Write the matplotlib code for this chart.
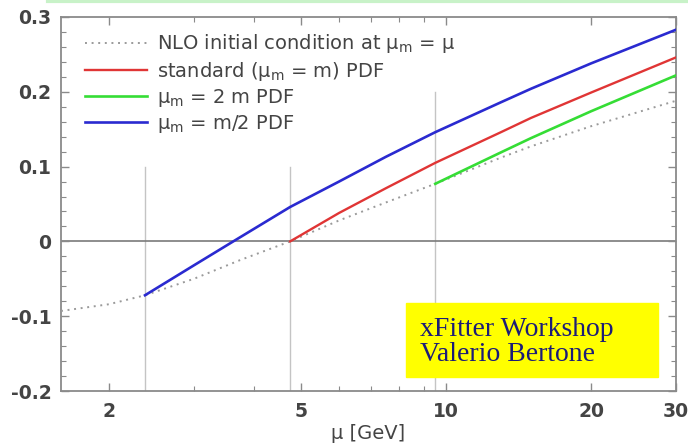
import numpy as np
import matplotlib
matplotlib.use('Agg')
import matplotlib.pyplot as plt
from matplotlib.lines import Line2D
from matplotlib.ticker import FixedLocator, NullFormatter, MultipleLocator

# values
nlo_x = [1.59, 2.0, 2.375, 3.0, 3.74, 4.75, 6.0, 7.5, 9.5, 13.0, 15.0, 20.0, 30.0]
nlo_y = [-0.093, -0.084, -0.072, -0.050, -0.025, 0.0, 0.028, 0.052, 0.077, 0.112, 0.127, 0.154, 0.188]

std_x = [4.75, 6.0, 7.5, 9.5, 13.0, 15.0, 20.0, 30.0]
std_y = [0.0, 0.038, 0.071, 0.105, 0.146, 0.165, 0.199, 0.246]

twom_x = [9.5, 13.0, 15.0, 20.0, 30.0]
twom_y = [0.077, 0.119, 0.138, 0.174, 0.222]

half_x = [2.375, 3.0, 3.62, 4.75, 6.0, 7.5, 9.5, 13.0, 15.0, 20.0, 30.0]
half_y = [-0.072, -0.032, 0.0, 0.046, 0.080, 0.113, 0.146, 0.186, 0.204, 0.238, 0.283]

thresholds = [2.375, 4.75, 9.5]
threshold_top = [0.1, 0.1, 0.2]

xticks = [2, 5, 10, 20, 30]
xminor = [3, 4, 6, 7, 8, 9]

labels = [r'NLO initial condition at μ$_{\rm m}$ = μ',
          r'standard (μ$_{\rm m}$ = m) PDF',
          r'μ$_{\rm m}$ = 2 m PDF',
          r'μ$_{\rm m}$ = m/2 PDF']

plt.rcParams['mathtext.fontset'] = 'dejavusans'
txt = '#444444'
frame = '#8a8a8a'

fig = plt.figure(figsize=(6.88, 4.48), dpi=100)
ax = fig.add_axes([61/688, 1-391/448, 615/688, 374/448])

for xv, yt in zip(thresholds, threshold_top):
    ax.plot([xv, xv], [-0.2, yt], color='#c4c4c4', lw=1.0, zorder=1)
ax.axhline(0, color='#7a7a7a', lw=1.2, zorder=1)

ax.plot(nlo_x, nlo_y, color='#9a9a9a', lw=1.4, ls=(0, (1, 2.4)), label=labels[0], zorder=3)
ax.plot(std_x, std_y, color='#e03535', lw=1.7, label=labels[1], zorder=4)
ax.plot(twom_x, twom_y, color='#35dd35', lw=1.9, label=labels[2], zorder=4)
ax.plot(half_x, half_y, color='#2a2ad0', lw=1.9, label=labels[3], zorder=4)

ax.set_xscale('log')
ax.set_xlim(1.59, 30)
ax.set_ylim(-0.2, 0.3)
ax.xaxis.set_major_locator(FixedLocator(xticks))
ax.xaxis.set_minor_locator(FixedLocator(xminor))
ax.xaxis.set_minor_formatter(NullFormatter())
ax.set_xticklabels([str(t) for t in xticks])
ax.yaxis.set_major_locator(MultipleLocator(0.1))
ax.yaxis.set_minor_locator(MultipleLocator(0.02))
ax.yaxis.set_major_formatter(plt.FuncFormatter(lambda v, p: '0' if abs(v) < 1e-9 else ('%.1f' % v)))

ax.tick_params(which='both', direction='in', top=True, right=True, colors=frame,
               labelcolor=txt, labelsize=13.5)
ax.tick_params(which='major', length=6, width=1)
ax.tick_params(which='minor', length=3.5, width=0.8)
ax.tick_params(axis='x', pad=8)
ax.tick_params(axis='y', pad=7)
for lab in ax.get_xticklabels() + ax.get_yticklabels():
    lab.set_fontweight('bold')
for s in ax.spines.values():
    s.set_color(frame)
    s.set_linewidth(1.3)

ax.set_xlabel('μ [GeV]', color=txt, fontsize=14, labelpad=2)

leg = ax.legend(loc='upper left', frameon=False, fontsize=14, handlelength=3.2,
                handletextpad=0.5, labelspacing=0.22, borderaxespad=0.2,
                bbox_to_anchor=(0.02, 0.99))
for t in leg.get_texts():
    t.set_color(txt)

# yellow credit box
fig.patches.append(plt.Rectangle((406/688, 1-377/448), 252/688, 74/448,
                                 transform=fig.transFigure, color='#ffff00', zorder=5))
fig.text(420/688, 1-342/448, 'xFitter Workshop\nValerio Bertone',
         family='Liberation Serif', fontsize=20, color='#1c1c78', va='center', ha='left',
         linespacing=1.05, zorder=6)

fig.add_artist(Line2D([0.07, 1.0], [0.997, 0.997], color='#c8f2c8', lw=3))

fig.savefig('out.png', dpi=100)
